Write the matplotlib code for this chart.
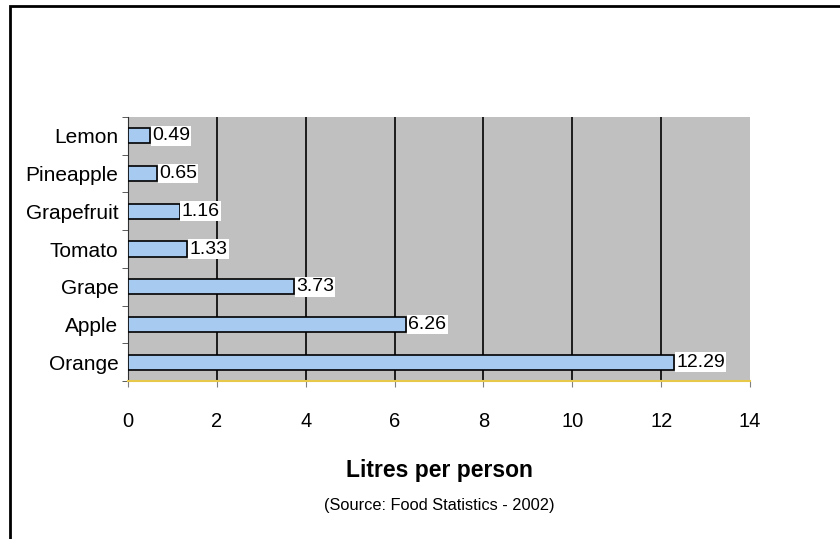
import matplotlib.pyplot as plt
from matplotlib.patches import Rectangle

fruits = ['Lemon', 'Pineapple', 'Grapefruit', 'Tomato', 'Grape', 'Apple', 'Orange']
litres = [0.49, 0.65, 1.16, 1.33, 3.73, 6.26, 12.29]
x_ticks = [0, 2, 4, 6, 8, 10, 12, 14]

plt.rcParams['font.family'] = ['Liberation Sans', 'DejaVu Sans']

fig = plt.figure(figsize=(8.4, 5.39), dpi=100)
ax = fig.add_axes([0.1524, 0.2931, 0.7405, 0.4898])
ax.set_facecolor('#C0C0C0')

# frame around the figure (left and top only visible)
fig.patches.append(Rectangle((0.012, -0.05), 1.2, 1.039, transform=fig.transFigure,
                             fill=False, edgecolor='black', linewidth=2))

y = list(range(len(fruits)))[::-1]
ax.barh(y, litres, height=0.4, color='#A6CAF0', edgecolor='black', linewidth=1.2, zorder=3)

for yi, v in zip(y, litres):
    ax.text(v + 0.05, yi, f'{v:.2f}', va='center', ha='left', fontsize=14, zorder=4,
            bbox=dict(facecolor='white', edgecolor='none', pad=1))

ax.set_xlim(0, 14)
ax.set_ylim(-0.5, len(fruits) - 0.5)
ax.set_xticks(x_ticks)
ax.set_xticklabels([str(t) for t in x_ticks], fontsize=14.5)
ax.set_yticks(y)
ax.set_yticklabels(fruits, fontsize=15)
ax.set_yticks([i - 0.5 for i in range(len(fruits) + 1)], minor=True)
ax.tick_params(axis='y', which='major', length=0, pad=7)
ax.tick_params(axis='y', which='minor', length=4, color='#404040')
ax.tick_params(axis='x', length=4, color='#808080', pad=18)

for t in x_ticks[1:-1]:
    ax.axvline(t, color='black', linewidth=1.2, zorder=1)

ax.spines['top'].set_visible(False)
ax.spines['right'].set_visible(False)
ax.spines['left'].set_color('#303030')
ax.spines['bottom'].set_color('#E8C848')
ax.spines['bottom'].set_linewidth(1.5)

fig.text(0.5 * (0.1524 + 0.8929), 0.127, 'Litres per person', ha='center', va='center',
         fontsize=16.5, fontweight='bold')
fig.text(0.5 * (0.1524 + 0.8929), 0.063, '(Source: Food Statistics - 2002)', ha='center',
         va='center', fontsize=11.8)

fig.savefig('out.png', dpi=100, facecolor='white')
